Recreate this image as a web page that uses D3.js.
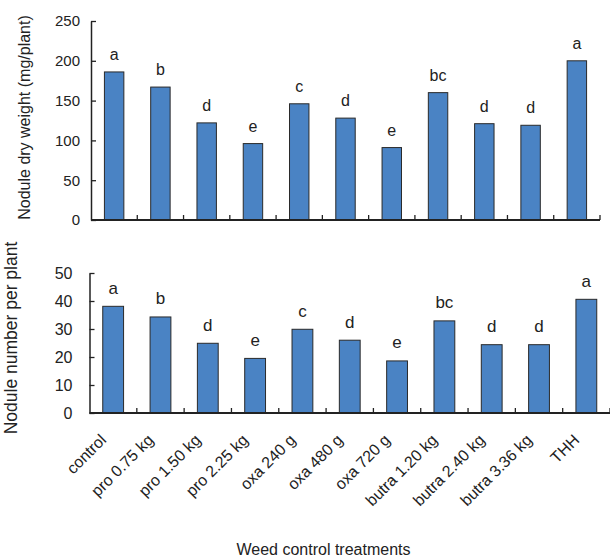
<!DOCTYPE html>
<html><head><meta charset="utf-8">
<script src="https://cdn.jsdelivr.net/npm/d3@7"></script>
<style>body{margin:0;background:#fff}svg{display:block}text{font-family:"Liberation Sans",Arial,sans-serif;fill:#222}</style>
</head><body>
<script>
const categories = ["control","pro 0.75 kg","pro 1.50 kg","pro 2.25 kg","oxa 240 g","oxa 480 g","oxa 720 g","butra 1.20 kg","butra 2.40 kg","butra 3.36 kg","THH"];
const dryWeight = [186, 167, 122, 96, 146, 128, 91, 160, 121, 119, 200];
const dryWeightLetters = ["a","b","d","e","c","d","e","bc","d","d","a"];
const noduleNumber = [38.1, 34.3, 24.9, 19.5, 29.9, 26.0, 18.6, 32.9, 24.4, 24.4, 40.6];
const noduleNumberLetters = ["a","b","d","e","c","d","e","bc","d","d","a"];
const dryWeightTicks = [0, 50, 100, 150, 200, 250];
const numberTicks = [0, 10, 20, 30, 40, 50];
const yTitleTop = "Nodule dry weight (mg/plant)";
const yTitleBottom = "Nodule number per plant";
const xTitle = "Weed control treatments";

const W = 610, H = 560;
const svg = d3.select("body").append("svg").attr("width", W).attr("height", H);
const axisColor = "#222";
const barFill = "#4a83c4";
const barStroke = "#2a2a2a";

function panel(opts) {
  const {values, letters, ticks, x0, x1, yBottom, yTop, maxV, padIn, tickFont, letterFont, labelGap, letterGap} = opts;
  const x = d3.scaleBand().domain(categories).range([x0, x1]).paddingInner(padIn).paddingOuter(padIn / 2);
  const y = d3.scaleLinear().domain([0, maxV]).range([yBottom, yTop]);
  const g = svg.append("g");
  g.selectAll("rect.bar").data(values).join("rect")
    .attr("x", (d, i) => x(categories[i]))
    .attr("y", d => y(d))
    .attr("width", x.bandwidth())
    .attr("height", d => y(0) - y(d))
    .attr("fill", barFill).attr("stroke", barStroke).attr("stroke-width", 1);
  g.selectAll("text.let").data(letters).join("text")
    .attr("x", (d, i) => x(categories[i]) + x.bandwidth() / 2)
    .attr("y", (d, i) => y(values[i]) - letterGap)
    .attr("text-anchor", "middle").attr("font-size", letterFont).text(d => d);
  const yAxis = d3.axisLeft(y).tickValues(ticks).tickSize(-5).tickPadding(labelGap).tickSizeOuter(0);
  const ya = g.append("g").attr("transform", `translate(${x0},0)`).call(yAxis);
  ya.selectAll("text").attr("font-size", tickFont).attr("font-family", '"Liberation Sans",Arial,sans-serif').attr("fill", "#222");
  ya.selectAll("line").attr("stroke", axisColor).attr("stroke-width", 1.3);
  ya.select(".domain").attr("stroke", axisColor).attr("stroke-width", 1.5);
  const step = x.step();
  g.append("line").attr("x1", x0).attr("x2", x1).attr("y1", yBottom).attr("y2", yBottom)
    .attr("stroke", axisColor).attr("stroke-width", 2);
  g.selectAll("line.xt").data(categories).join("line")
    .attr("x1", (d) => x(d) - x.paddingOuter() * step + step)
    .attr("x2", (d) => x(d) - x.paddingOuter() * step + step)
    .attr("y1", yBottom).attr("y2", yBottom - 5)
    .attr("stroke", axisColor).attr("stroke-width", 1.3);
  return x;
}

panel({values: dryWeight, letters: dryWeightLetters, ticks: dryWeightTicks,
  x0: 91, x1: 600, yBottom: 220, yTop: 21, maxV: 250, padIn: 0.58,
  tickFont: 15, letterFont: 16, labelGap: 11, letterGap: 12});

const xb = panel({values: noduleNumber, letters: noduleNumberLetters, ticks: numberTicks,
  x0: 89.5, x1: 610, yBottom: 413, yTop: 273, maxV: 50, padIn: 0.56,
  tickFont: 16, letterFont: 17, labelGap: 17, letterGap: 12.5});

svg.append("g").selectAll("text").data(categories).join("text")
  .attr("transform", d => `translate(${xb(d) + xb.bandwidth() / 2 - 6},441) rotate(-45)`)
  .attr("text-anchor", "end").attr("font-size", 16).text(d => d);

svg.append("text").attr("transform", "translate(30,117.5) rotate(-90)")
  .attr("text-anchor", "middle").attr("font-size", 16).text(yTitleTop);
svg.append("text").attr("transform", "translate(16.5,338) rotate(-90)")
  .attr("text-anchor", "middle").attr("font-size", 17.5).text(yTitleBottom);
svg.append("text").attr("x", 323.5).attr("y", 555)
  .attr("text-anchor", "middle").attr("font-size", 16).text(xTitle);
</script>
</body></html>
